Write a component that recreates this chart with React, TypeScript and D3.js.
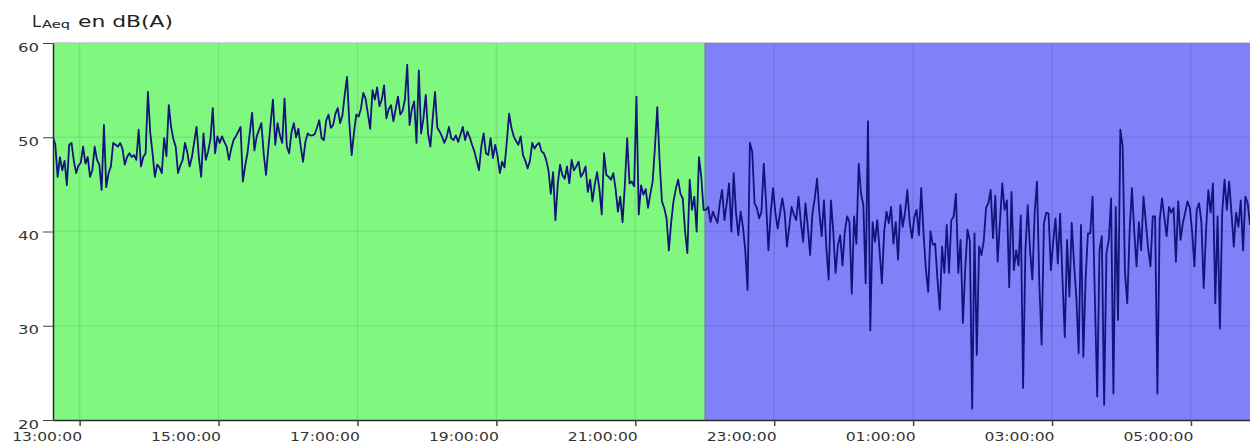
import React, { useEffect, useRef } from 'react';
import * as d3 from 'd3';

// LAeq readings, one every 2 minutes, starting 12:37
const h12 = [50, 49.2, 45.8, 47.9, 46.5, 47.5, 44.9, 49.2, 49.4, 47.5, 46.2, 47.0];
const h13 = [47.3, 49.0, 47.2, 47.9, 45.8, 46.5, 49.0, 47.6, 47.1, 44.4, 51.3, 44.7, 46.2, 46.9, 49.4, 49.2, 49.0, 49.4, 48.8, 47.1, 47.9, 48.3, 47.9, 48.1, 47.6, 50.8, 46.9, 47.9, 48.3, 54.8];
const h14 = [50.5, 48.3, 45.8, 47.1, 46.8, 46.2, 49.9, 48.0, 53.4, 51.1, 49.8, 49.0, 46.2, 47.0, 47.6, 49.4, 48.4, 46.9, 47.9, 49.5, 51.1, 47.9, 45.8, 50.4, 47.6, 48.5, 49.8, 53.1, 48.3, 50.1];
const h15 = [49.4, 50.1, 49.5, 49.0, 47.6, 48.8, 49.7, 50.1, 50.6, 51.1, 45.3, 47.0, 48.3, 50.5, 52.6, 48.6, 50.1, 50.8, 51.5, 48.3, 46.0, 48.8, 51.5, 54.0, 49.2, 51.5, 50.2, 49.4, 54.1, 49.0];
const h16 = [48.3, 50.5, 51.5, 50.0, 50.9, 49.0, 47.4, 49.5, 50.4, 50.2, 50.2, 50.3, 51.0, 51.8, 49.9, 49.7, 51.8, 52.4, 51.0, 51.3, 52.5, 53.1, 51.5, 52.3, 54.5, 56.4, 51.5, 48.1, 50.5, 52.4];
const h17 = [52.2, 53.0, 54.7, 54.1, 52.5, 50.9, 55.0, 54.0, 55.3, 53.3, 54.0, 55.5, 52.0, 53.0, 53.4, 51.7, 53.0, 54.3, 52.4, 52.8, 54.0, 57.7, 51.3, 53.0, 53.8, 49.4, 57.1, 50.4, 52.0, 54.5];
const h18 = [50.4, 49.0, 52.0, 54.8, 51.0, 50.6, 50.1, 49.4, 50.0, 51.1, 49.9, 49.7, 50.2, 49.5, 50.3, 51.1, 49.7, 50.6, 50.0, 49.2, 48.5, 47.5, 46.5, 49.0, 50.4, 48.3, 48.1, 49.9, 47.8, 49.2];
const h19 = [48.0, 46.2, 47.4, 46.8, 49.5, 52.5, 51.0, 50.1, 49.6, 49.2, 50.1, 48.1, 47.5, 46.7, 47.5, 49.4, 48.8, 49.2, 49.4, 48.5, 48.3, 47.6, 46.5, 44.0, 46.3, 41.2, 45.0, 47.1, 46.0, 45.6];
const h20 = [46.9, 45.1, 47.6, 46.5, 46.9, 47.4, 45.8, 46.2, 46.9, 44.2, 45.5, 43.2, 45.0, 46.3, 44.5, 41.8, 48.3, 46.0, 45.8, 45.5, 46.2, 44.5, 42.1, 43.7, 41.0, 45.0, 49.9, 45.1, 45.3, 44.8];
const h21 = [54.3, 41.8, 44.9, 43.9, 44.5, 42.5, 44.0, 45.3, 49.0, 53.2, 47.5, 43.2, 42.5, 41.4, 38.0, 41.0, 43.2, 44.5, 45.5, 44.0, 43.5, 40.0, 37.7, 45.5, 42.3, 43.7, 40.0, 47.9, 45.8, 42.3];
const h22 = [42.3, 42.6, 41.0, 42.1, 41.5, 40.9, 43.0, 44.4, 41.2, 43.0, 45.1, 40.0, 46.2, 42.0, 39.6, 42.1, 40.5, 38.0, 33.8, 49.4, 48.5, 43.0, 42.5, 41.4, 42.1, 47.2, 43.0, 38.0, 42.0, 44.6];
const h23 = [42.0, 40.3, 41.9, 43.5, 42.0, 38.4, 40.5, 42.6, 41.8, 41.2, 43.7, 41.0, 38.9, 43.0, 40.5, 37.5, 41.9, 43.5, 45.6, 42.0, 39.5, 43.3, 38.4, 34.9, 43.3, 40.0, 35.6, 38.5, 39.6, 36.4];
const h00 = [40.0, 41.6, 41.0, 33.4, 41.6, 38.7, 47.2, 44.0, 42.8, 34.5, 51.7, 29.5, 41.0, 38.9, 41.2, 38.0, 34.5, 40.0, 42.1, 40.9, 42.6, 38.7, 41.0, 37.0, 42.8, 40.5, 42.0, 44.4, 41.0, 39.3];
const h01 = [41.5, 42.3, 39.6, 44.6, 39.8, 36.0, 33.6, 40.0, 38.6, 38.7, 35.0, 31.7, 38.4, 35.6, 40.7, 35.6, 41.2, 41.6, 44.0, 35.6, 39.1, 30.3, 36.0, 40.2, 39.0, 21.2, 39.8, 26.9, 38.4, 37.5];
const h02 = [39.0, 42.5, 43.0, 44.4, 39.3, 43.8, 36.8, 41.0, 45.1, 42.3, 43.3, 34.1, 44.2, 35.9, 38.0, 36.4, 41.7, 23.4, 38.0, 42.8, 38.0, 34.9, 42.0, 45.3, 34.5, 28.0, 40.9, 42.0, 41.9, 35.9];
const h03 = [38.9, 41.4, 36.6, 41.9, 35.0, 28.8, 39.1, 33.1, 40.9, 36.6, 33.0, 27.1, 40.7, 26.7, 35.0, 39.8, 39.8, 43.7, 33.0, 22.5, 38.0, 39.5, 21.6, 37.7, 39.1, 43.5, 22.8, 42.6, 30.6, 50.8];
const h04 = [49.0, 35.6, 32.4, 40.0, 44.6, 40.0, 36.3, 41.0, 38.0, 43.7, 41.0, 38.2, 36.3, 41.6, 41.6, 22.8, 41.2, 43.5, 41.5, 39.5, 42.6, 42.0, 42.5, 36.8, 43.2, 39.1, 40.9, 42.0, 43.2, 42.5];
const h05 = [40.0, 36.3, 42.3, 43.0, 41.0, 34.0, 40.0, 44.4, 42.0, 45.1, 32.4, 41.6, 29.7, 42.0, 45.5, 42.3, 45.3, 42.0, 38.4, 42.0, 40.5, 43.3, 38.0, 43.7, 43.0, 40.7];

const startTime = new Date(2020, 0, 1, 12, 37);
const endTime = new Date(2020, 0, 2, 5, 51);
const nightStart = new Date(2020, 0, 1, 22, 0);
const stepMinutes = 2;

const tickTimes = [
  new Date(2020, 0, 1, 13), new Date(2020, 0, 1, 15), new Date(2020, 0, 1, 17),
  new Date(2020, 0, 1, 19), new Date(2020, 0, 1, 21), new Date(2020, 0, 1, 23),
  new Date(2020, 0, 2, 1), new Date(2020, 0, 2, 3), new Date(2020, 0, 2, 5),
];
const yTicks = [20, 30, 40, 50, 60];

const levels = [
  ...h12, ...h13, ...h14, ...h15, ...h16, ...h17, ...h18, ...h19, ...h20,
  ...h21, ...h22, ...h23, ...h00, ...h01, ...h02, ...h03, ...h04, ...h05,
];

const App = () => {
  const ref = useRef<SVGSVGElement>(null);

  useEffect(() => {
    const svg = d3.select(ref.current);
    svg.selectAll('*').remove();

    const left = 53;
    const right = 1250;
    const top = 43;
    const bottom = 420;

    const x = d3.scaleTime().domain([startTime, endTime]).range([left, right]);
    const y = d3.scaleLinear().domain([20, 60]).range([bottom, top]);

    const points = levels.map((v, i) => ({
      t: d3.timeMinute.offset(startTime, i * stepMinutes),
      v,
    }));

    svg
      .append('defs')
      .append('clipPath')
      .attr('id', 'plot-clip')
      .append('rect')
      .attr('x', left)
      .attr('y', top)
      .attr('width', right - left)
      .attr('height', bottom - top);

    // day / night backgrounds
    svg
      .append('rect')
      .attr('x', left)
      .attr('y', top)
      .attr('width', x(nightStart) - left)
      .attr('height', bottom - top)
      .attr('fill', '#80f880');
    svg
      .append('rect')
      .attr('x', x(nightStart))
      .attr('y', top)
      .attr('width', right - x(nightStart))
      .attr('height', bottom - top)
      .attr('fill', '#8080f8');
    svg
      .append('line')
      .attr('x1', x(nightStart))
      .attr('x2', x(nightStart))
      .attr('y1', top)
      .attr('y2', bottom)
      .attr('stroke', 'rgba(0,0,60,0.25)')
      .attr('stroke-width', 1);

    // top border
    svg
      .append('line')
      .attr('x1', left)
      .attr('x2', right)
      .attr('y1', top - 0.5)
      .attr('y2', top - 0.5)
      .attr('stroke', '#cfd0dc')
      .attr('stroke-width', 1);

    // grid
    const grid = svg.append('g').attr('stroke', 'rgba(0,0,0,0.08)').attr('stroke-width', 1.6);
    grid
      .selectAll('line.h')
      .data(yTicks.filter((d) => d > 20 && d < 60))
      .enter()
      .append('line')
      .attr('x1', left)
      .attr('x2', right)
      .attr('y1', (d) => y(d))
      .attr('y2', (d) => y(d));
    grid
      .selectAll('line.v')
      .data(tickTimes)
      .enter()
      .append('line')
      .attr('x1', (d) => x(d))
      .attr('x2', (d) => x(d))
      .attr('y1', top)
      .attr('y2', bottom);

    // series
    const line = d3
      .line<{ t: Date; v: number }>()
      .x((d) => x(d.t))
      .y((d) => y(d.v));

    svg
      .append('path')
      .datum(points)
      .attr('clip-path', 'url(#plot-clip)')
      .attr('d', line)
      .attr('fill', 'none')
      .attr('stroke', '#13137c')
      .attr('stroke-width', 1.8)
      .attr('stroke-linejoin', 'round');

    // y axis
    const yAxis = svg
      .append('g')
      .attr('transform', `translate(${left},0)`)
      .call(d3.axisLeft(y).tickValues(yTicks).tickSize(10).tickSizeOuter(0).tickPadding(4));
    yAxis.select('.domain').attr('stroke', '#2a2a2a').attr('stroke-width', 1.5);
    yAxis.selectAll('.tick line').attr('stroke', '#444');
    yAxis
      .selectAll('.tick text')
      .attr('dy', '0.68em')
      .attr('fill', '#333')
      .attr('font-size', 12)
      .attr('font-family', 'DejaVu Sans, sans-serif')
      .attr('textLength', 21)
      .attr('lengthAdjust', 'spacingAndGlyphs');

    // x axis
    const xAxis = svg
      .append('g')
      .attr('transform', `translate(0,${bottom})`)
      .call(
        d3
          .axisBottom(x)
          .tickValues(tickTimes)
          .tickFormat(d3.timeFormat('%H:%M:%S') as any)
          .tickSize(6)
          .tickSizeOuter(0)
      );
    xAxis.select('.domain').attr('stroke', '#2a2a2a').attr('stroke-width', 1.5);
    xAxis.selectAll('.tick line').attr('stroke', '#444').attr('stroke-width', 1.5);
    xAxis
      .selectAll('.tick text')
      .attr('text-anchor', 'end')
      .attr('x', 2)
      .attr('y', 20.5)
      .attr('dy', 0)
      .attr('fill', '#333')
      .attr('font-size', 12)
      .attr('font-family', 'DejaVu Sans, sans-serif')
      .attr('textLength', 70)
      .attr('lengthAdjust', 'spacingAndGlyphs');

    // axis title: L(Aeq) en dB(A)
    const title = svg.append('g').attr('fill', '#222').attr('font-family', 'DejaVu Sans, sans-serif');
    title
      .append('text')
      .attr('x', 32)
      .attr('y', 27)
      .attr('font-size', 16)
      .attr('textLength', 9)
      .attr('lengthAdjust', 'spacingAndGlyphs')
      .text('L');
    title
      .append('text')
      .attr('x', 42)
      .attr('y', 28)
      .attr('font-size', 10)
      .attr('textLength', 28)
      .attr('lengthAdjust', 'spacingAndGlyphs')
      .text('Aeq');
    title
      .append('text')
      .attr('x', 78)
      .attr('y', 27)
      .attr('font-size', 16)
      .attr('textLength', 95)
      .attr('lengthAdjust', 'spacingAndGlyphs')
      .text('en dB(A)');
  }, []);

  return (
    <svg
      ref={ref}
      width={1250}
      height={443}
      style={{ position: 'absolute', left: 0, top: 0, display: 'block', background: '#fff' }}
    />
  );
};

export default App;
